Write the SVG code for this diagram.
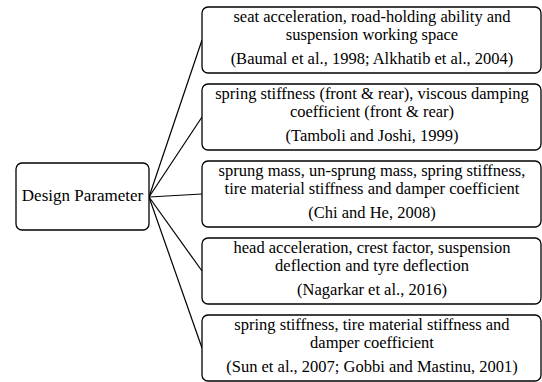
<svg xmlns="http://www.w3.org/2000/svg" width="542" height="382" viewBox="0 0 542 382">
<style>
.box{fill:#fff;stroke:#000;stroke-width:1.3}
.t{font-family:'Liberation Serif','DejaVu Serif',serif;font-size:16.5px;fill:#000;text-anchor:middle}
.d{font-size:17px}
.c{stroke:#000;stroke-width:1.2;fill:none}
</style>
<rect width="542" height="382" fill="#fff"/>
<g id="connectors">
<line class="c" x1="149" y1="197" x2="202" y2="40"/>
<line class="c" x1="149" y1="197" x2="202" y2="117"/>
<line class="c" x1="149" y1="197" x2="202" y2="194"/>
<line class="c" x1="149" y1="197" x2="202" y2="271"/>
<line class="c" x1="149" y1="197" x2="202" y2="348"/>
</g>
<g id="design">
<rect class="box" x="16" y="163" width="133" height="67" rx="6"/>
<text class="t d" x="82.5" y="201">Design Parameter</text>
</g>
<g id="n1">
<rect class="box" x="202" y="7" width="339" height="66" rx="6"/>
<text class="t" x="372" y="21.5">seat acceleration, road-holding ability and</text>
<text class="t" x="372" y="40">suspension working space</text>
<text class="t" x="372" y="64">(Baumal et al., 1998; Alkhatib et al., 2004)</text>
</g>
<g id="n2">
<rect class="box" x="202" y="84" width="339" height="66" rx="6"/>
<text class="t" x="372" y="98.5">spring stiffness (front &amp; rear), viscous damping</text>
<text class="t" x="372" y="117">coefficient (front &amp; rear)</text>
<text class="t" x="372" y="141">(Tamboli and Joshi, 1999)</text>
</g>
<g id="n3">
<rect class="box" x="202" y="161" width="339" height="66" rx="6"/>
<text class="t" x="372" y="175.5">sprung mass, un-sprung mass, spring stiffness,</text>
<text class="t" x="372" y="194">tire material stiffness and damper coefficient</text>
<text class="t" x="372" y="218">(Chi and He, 2008)</text>
</g>
<g id="n4">
<rect class="box" x="202" y="238" width="339" height="66" rx="6"/>
<text class="t" x="372" y="252.5">head acceleration, crest factor, suspension</text>
<text class="t" x="372" y="271">deflection and tyre deflection</text>
<text class="t" x="372" y="295">(Nagarkar et al., 2016)</text>
</g>
<g id="n5">
<rect class="box" x="202" y="315" width="339" height="66" rx="6"/>
<text class="t" x="372" y="329.5">spring stiffness, tire material stiffness and</text>
<text class="t" x="372" y="348">damper coefficient</text>
<text class="t" x="372" y="372">(Sun et al., 2007; Gobbi and Mastinu, 2001)</text>
</g>
</svg>
